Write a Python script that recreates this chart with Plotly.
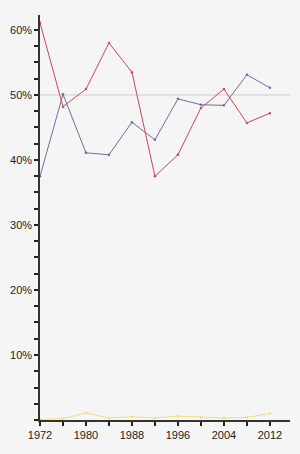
import plotly.graph_objects as go

years = [1972, 1976, 1980, 1984, 1988, 1992, 1996, 2000, 2004, 2008, 2012]
red_vals = [61.1, 48.2, 50.9, 58.0, 53.5, 37.5, 40.8, 48.0, 50.9, 45.7, 47.2]
blue_vals = [37.5, 50.1, 41.1, 40.8, 45.8, 43.1, 49.4, 48.5, 48.4, 53.1, 51.1]
yellow_vals = [0.1, 0.2, 1.1, 0.3, 0.5, 0.3, 0.6, 0.4, 0.3, 0.4, 1.0]
y_ticks = [10, 20, 30, 40, 50, 60]
y_labels = ["10%", "20%", "30%", "40%", "50%", "60%"]
x_ticks = [1972, 1980, 1988, 1996, 2004, 2012]

fig = go.Figure()
fig.add_shape(type="line", xref="x", yref="y", x0=1972, x1=2015.5, y0=50, y1=50,
              line=dict(color="#cfcfcf", width=1), layer="below")
for vals, col in [(yellow_vals, "#f0de78"), (blue_vals, "#6e6e9e"), (red_vals, "#c9485c")]:
    fig.add_trace(go.Scatter(x=years, y=vals, mode="lines+markers",
                             line=dict(color=col, width=1),
                             marker=dict(color=col, size=2.5),
                             hoverinfo="skip", showlegend=False))

fig.update_layout(
    width=300, height=454,
    margin=dict(l=40, r=10, t=15, b=34),
    paper_bgcolor="#f5f5f5", plot_bgcolor="#f5f5f5",
    font=dict(family="Liberation Sans, Arial", size=11, color="#222"),
    xaxis=dict(range=[1972, 2015.5], tickvals=x_ticks, ticks="outside", ticklen=4,
               tickwidth=1.5, tickcolor="#222", showgrid=False, zeroline=False,
               showline=True, linecolor="#333", linewidth=1.5,
               minor=dict(tickvals=[1976, 1984, 1992, 2000, 2008], ticks="outside",
                          ticklen=4, tickwidth=1.5, tickcolor="#222", showgrid=False),
               fixedrange=True),
    yaxis=dict(range=[0, 62.3], tickvals=y_ticks, ticktext=y_labels, ticks="outside",
               ticklen=4, tickwidth=1.5, tickcolor="#222", showgrid=False, zeroline=False,
               showline=True, linecolor="#333", linewidth=1.5,
               minor=dict(dtick=2.5, tick0=0, ticks="outside", ticklen=4, tickwidth=1.5,
                          tickcolor="#222", showgrid=False),
               fixedrange=True),
)
fig.write_html("out.html")
